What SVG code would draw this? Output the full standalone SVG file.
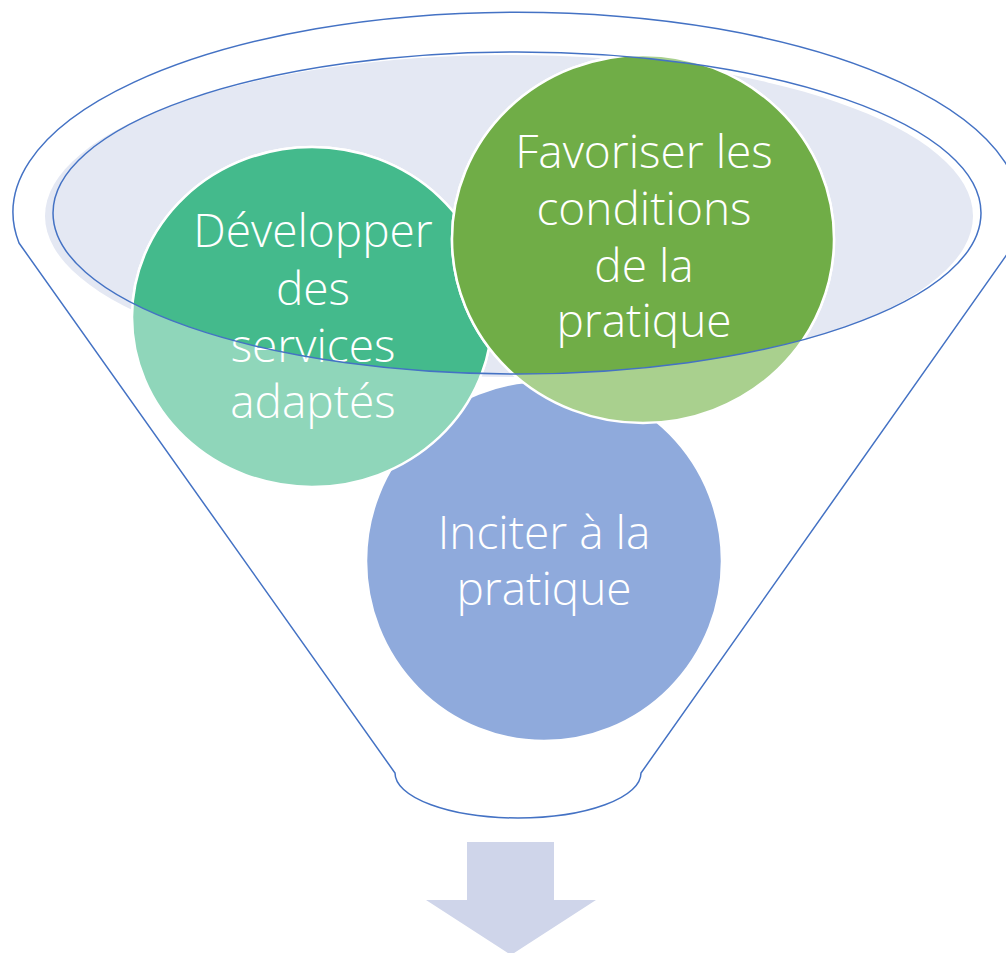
<svg xmlns="http://www.w3.org/2000/svg" width="1006" height="953" viewBox="0 0 1006 953">
  <style>
    .line { fill: none; stroke: #4472C4; stroke-width: 1.5; }
    .ring { stroke: #FFFFFF; stroke-width: 2.5; }
    .label { font-family: "Open Sans", "Noto Sans", "Liberation Sans", sans-serif; font-size: 46px; font-weight: 350; fill: #FFFFFF; text-anchor: middle; }
  </style>
  <defs>
    <clipPath id="rim">
      <ellipse cx="517" cy="213" rx="464" ry="161"/>
    </clipPath>
  </defs>
  <rect width="1006" height="953" fill="#FFFFFF"/>

  <g id="funnel">
    <path class="line" d="M 19 243 L 395 773 A 123 45 0 0 0 641 773 L 1015 243 A 504 200 0 1 0 19 243 Z" fill="#FFFFFF"/>
    <ellipse cx="509" cy="216" rx="464" ry="161" fill="#E4E8F3"/>
  </g>

  <g id="node-inciter">
    <ellipse class="ring" cx="544" cy="561" rx="178" ry="180" fill="#8FAADC"/>
    <text class="label"><tspan x="544" y="549">Inciter à la</tspan><tspan x="544" y="605">pratique</tspan></text>
  </g>

  <g id="node-developper">
    <ellipse class="ring" cx="312" cy="317" rx="180" ry="170" fill="#8FD6BA"/>
    <ellipse class="ring" cx="312" cy="317" rx="180" ry="170" fill="#44BA8C" clip-path="url(#rim)"/>
    <text class="label"><tspan x="313" y="247">Développer</tspan><tspan x="313" y="305">des</tspan><tspan x="313" y="362">services</tspan><tspan x="313" y="418">adaptés</tspan></text>
  </g>

  <g id="node-favoriser">
    <ellipse class="ring" cx="643" cy="239" rx="191" ry="184" fill="#A9D08E"/>
    <ellipse class="ring" cx="643" cy="239" rx="191" ry="184" fill="#70AD47" clip-path="url(#rim)"/>
    <text class="label"><tspan x="644" y="168">Favoriser les</tspan><tspan x="644" y="225">conditions</tspan><tspan x="644" y="282">de la</tspan><tspan x="644" y="337">pratique</tspan></text>
  </g>

  <g id="rim-outline">
    <ellipse class="line" cx="517" cy="213" rx="464" ry="161"/>
  </g>

  <g id="connectors">
    <path d="M 467 842 L 554 842 L 554 900 L 596 900 L 511 955 L 426 900 L 467 900 Z" fill="#CFD5EA"/>
  </g>
</svg>
